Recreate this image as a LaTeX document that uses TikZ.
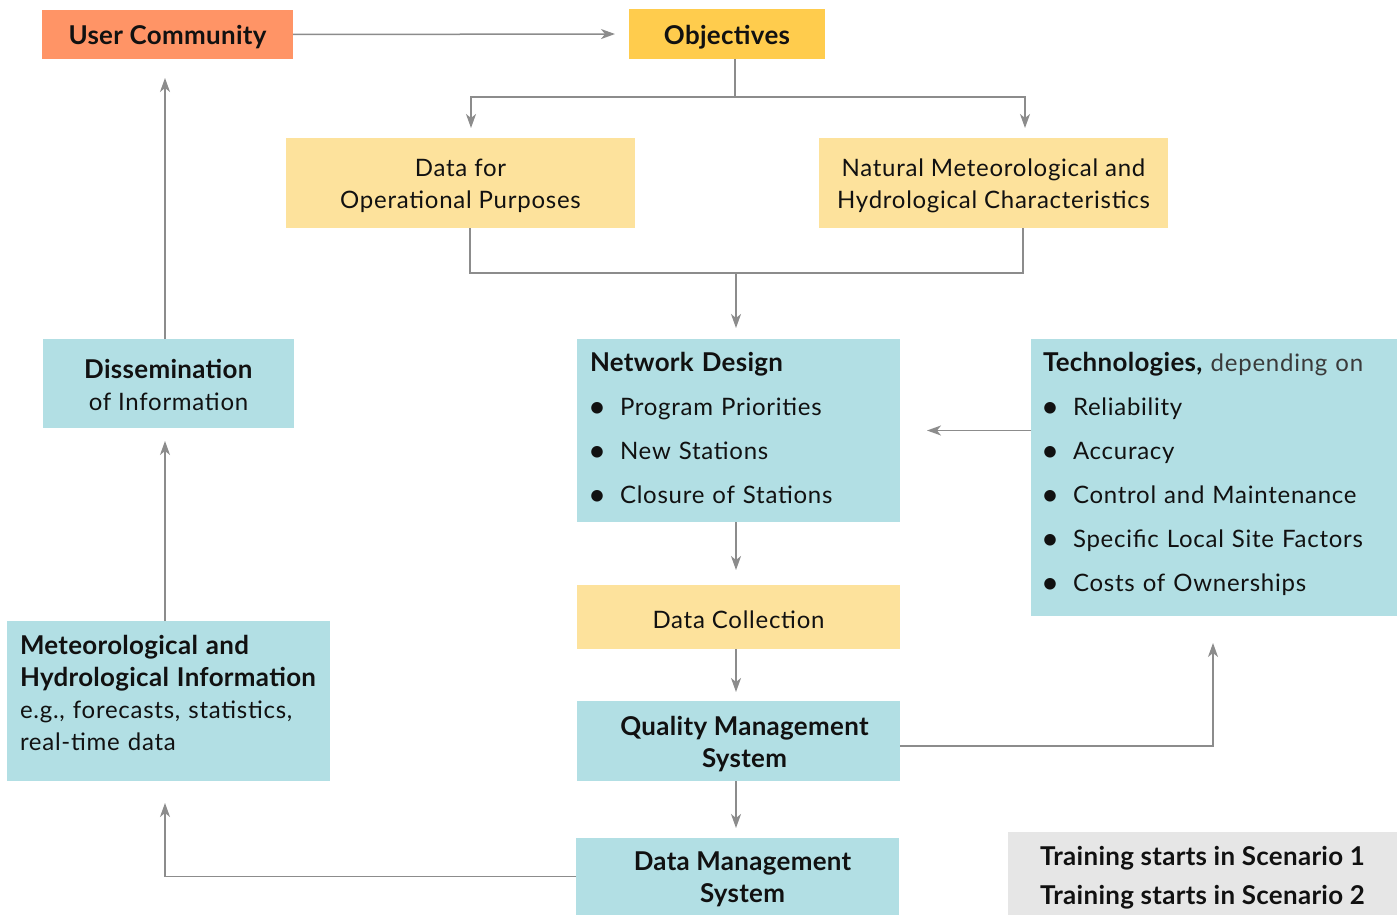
\documentclass[tikz,border=0pt]{standalone}
\usepackage{fontspec}
\setmainfont{Lato}[LetterSpace=3.1,BoldFeatures={Scale=1.08,LetterSpace=1.2}]
\usetikzlibrary{arrows.meta}
\definecolor{cOrange}{HTML}{FF9466}
\definecolor{cYellow}{HTML}{FFCC4D}
\definecolor{cLYellow}{HTML}{FDE29C}
\definecolor{cBlue}{HTML}{B2DFE4}
\definecolor{cGray}{HTML}{E6E6E6}
\definecolor{cLine}{HTML}{8C8C8C}
\definecolor{cText}{HTML}{111111}
\definecolor{cSoft}{HTML}{3A3A3A}
\newcommand\bulitem{\makebox[30pt][l]{\hspace{-2pt}\raisebox{-2pt}{\fontsize{31}{0}\selectfont\textbullet}}}
\begin{document}
\begin{tikzpicture}[x=1pt,y=-1pt,
  box/.style={draw=none,inner sep=0pt,outer sep=0pt},
  boxtext/.style={inner sep=0pt,outer sep=0pt,text=cText,
    font=\fontsize{24}{32}\selectfont,align=center,yshift=-3pt},
  listtext/.style={inner sep=0pt,outer sep=0pt,text=cText,anchor=base west,
    text width=#1,align=left},
  conn/.style={draw=cLine,line width=1.5pt,
    -{Stealth[length=14pt,width=10pt,inset=4pt]}},
  plain/.style={draw=cLine,line width=1.5pt}
]
\useasboundingbox (0,0) rectangle (1399,915);

% boxes
\node[box,fill=cOrange,minimum width=251,minimum height=49] (uc) at (167.5,34.5) {};
\node[box,fill=cYellow,minimum width=196,minimum height=50] (obj) at (727,34) {};
\node[box,fill=cLYellow,minimum width=349,minimum height=90] (dop) at (460.5,183) {};
\node[box,fill=cLYellow,minimum width=349,minimum height=90] (nat) at (993.5,183) {};
\node[box,fill=cBlue,minimum width=323,minimum height=183] (nd) at (738.5,430.5) {};
\node[box,fill=cBlue,minimum width=366,minimum height=277] (tech) at (1214,477.5) {};
\node[box,fill=cBlue,minimum width=251,minimum height=89] (dis) at (168.5,383.5) {};
\node[box,fill=cLYellow,minimum width=323,minimum height=64] (dc) at (738.5,617) {};
\node[box,fill=cBlue,minimum width=323,minimum height=80] (qms) at (738.5,741) {};
\node[box,fill=cBlue,minimum width=323,minimum height=160] (met) at (168.5,701) {};
\node[box,fill=cBlue,minimum width=323,minimum height=77] (dms) at (737.5,876.5) {};
\node[box,fill=cGray,minimum width=389,minimum height=83] (tr) at (1202.5,873.5) {};

% centred texts
\node[boxtext] (ucT) at (uc) {\bfseries User Community};
\node[boxtext] (objT) at (obj) {\bfseries Objectives};
\node[boxtext] (dopT) at (dop) {Data for\\Operational Purposes};
\node[boxtext] (natT) at (nat) {Natural Meteorological and\\Hydrological Characteristics};
\node[boxtext,yshift=2pt] (disT) at (dis) {\textbf{Dissemination}\\of Information};
\node[boxtext] (dcT) at (dc) {Data Collection};
\node[boxtext,xshift=6pt] (qmsT) at (qms) {\bfseries Quality Management\\\bfseries System};
\node[boxtext,xshift=5pt] (dmsT) at (dms) {\bfseries Data Management\\\bfseries System};
\node[boxtext,font=\fontsize{24}{39}\selectfont,yshift=-1pt] (trT) at (tr) {\bfseries Training starts in Scenario 1\\\bfseries Training starts in Scenario 2};

% list texts
\node[listtext=320pt,font=\fontsize{24}{44}\selectfont] (ndt) at (590,371)
  {\textbf{Network Design}\\
   \bulitem Program Priorities\\
   \bulitem New Stations\\
   \bulitem Closure of Stations};
\node[listtext=360pt,font=\fontsize{24}{44}\selectfont] (techt) at (1043,371)
  {\textbf{Technologies,} \textcolor{cSoft}{depending on}\\
   \bulitem Reliability\\
   \bulitem Accuracy\\
   \bulitem Control and Maintenance\\
   \bulitem Specific Local Site Factors\\
   \bulitem Costs of Ownerships};
\node[listtext=320pt,font=\fontsize{24}{32}\selectfont] (mett) at (20,654)
  {\textbf{Meteorological and}\\
   \textbf{Hydrological Information}\\
   e.g., forecasts, statistics,\\
   real-time data};

% connectors
\draw[conn,shorten >=14pt] (uc.east) -- (obj.west);
\coordinate (objout) at ([xshift=8pt]obj.south);
\coordinate (objbar) at ([yshift=-38pt]objout);
\draw[plain] (objout) -- (objbar);
\draw[conn,shorten >=10pt] (objbar) -| ([xshift=10.5pt]dop.north);
\draw[conn,shorten >=10pt] (objbar) -| ([xshift=31.5pt]nat.north);
\coordinate (mergebar) at (736,273);
\draw[plain] ([xshift=9.5pt]dop.south) |- (mergebar) -| ([xshift=29.5pt]nat.south);
\draw[conn,shorten >=11pt] (mergebar) -- (mergebar |- nd.north);
\draw[conn,shorten >=27pt] (nd.east -| tech.west) -- (nd.east);
\coordinate (col) at (736,0);
\draw[conn,shorten >=15pt] (col |- nd.south) -- (col |- dc.north);
\draw[conn,shorten >=9pt] (col |- dc.south) -- (col |- qms.north);
\draw[conn,shorten >=10pt] (col |- qms.south) -- (col |- dms.north);
\coordinate (qmsout) at ([yshift=-5pt]qms.east);
\coordinate (techin) at (1213,0);
\draw[conn,shorten >=27pt] (qmsout) -| (techin |- tech.south);
\coordinate (leftcol) at (165,0);
\draw[conn,shorten >=22pt] (dms.west) -| (leftcol |- met.south);
\draw[conn,shorten >=13pt] (leftcol |- met.north) -- (leftcol |- dis.south);
\draw[conn,shorten >=19pt] (leftcol |- dis.north) -- (leftcol |- uc.south);
\end{tikzpicture}
\end{document}
